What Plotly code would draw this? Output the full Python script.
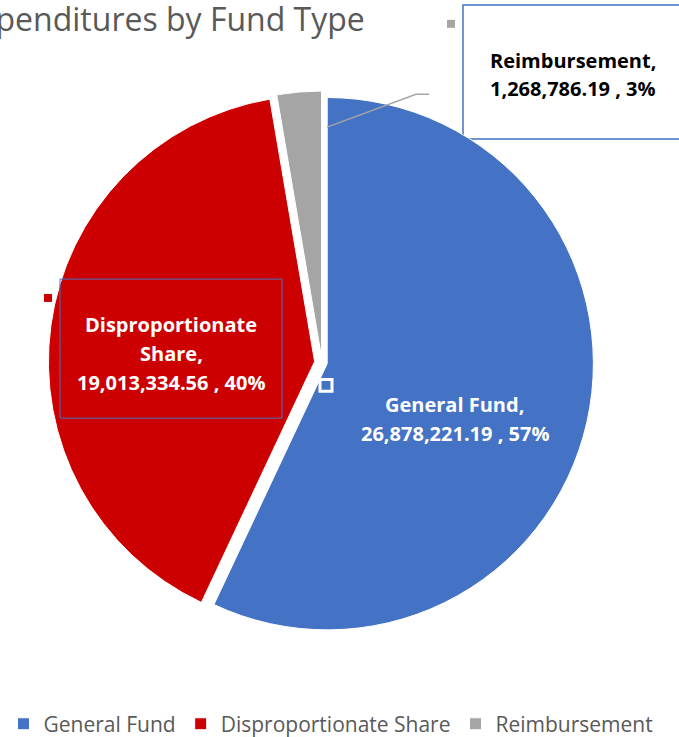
import plotly.graph_objects as go

W, H = 679, 737

categories = ["General Fund", "Disproportionate Share", "Reimbursement"]
values = [26878221.19, 19013334.56, 1268786.19]
colors = ["#4472C4", "#CC0000", "#A5A5A5"]
title_text = "Expenditures by Fund Type"


def px(x):
    return x / W


def py(y):
    return 1 - y / H


total = sum(values)
pcts = [round(v / total * 100) for v in values]

FONT = "Open Sans, Noto Sans, sans-serif"

fig = go.Figure()
fig.add_trace(go.Pie(
    labels=categories,
    values=values,
    sort=False,
    direction="clockwise",
    rotation=0,
    pull=[0.02, 0.028, 0.02],
    marker=dict(colors=colors, line=dict(color="white", width=1)),
    textinfo="none",
    hoverinfo="label+value+percent",
    domain=dict(x=[px(46.5), px(597.5)], y=[py(640.5), py(89.5)]),
))

annotations = []
annotations.append(dict(
    text=title_text, x=px(367), y=py(19), xref="paper", yref="paper",
    xanchor="right", yanchor="middle", showarrow=False,
    font=dict(family=FONT, size=32, color="#595959"),
))


def fmt(v):
    return f"{v:,.2f}"


def add_lines(lines, cx, ys, color):
    for line, yy in zip(lines, ys):
        annotations.append(dict(
            text=f"<b>{line}</b>", x=px(cx), y=py(yy), xref="paper", yref="paper",
            xanchor="center", yanchor="middle", showarrow=False,
            font=dict(family=FONT, size=20, color=color),
        ))


add_lines([f"{categories[0]},", f"{fmt(values[0])} , {pcts[0]}%"], 455, [407, 436], "white")
w1, w2 = categories[1].split(" ")
add_lines([w1, f"{w2},", f"{fmt(values[1])} , {pcts[1]}%"], 171, [327, 356, 385], "white")
add_lines([f"{categories[2]},", f"{fmt(values[2])} , {pcts[2]}%"], 573, [61, 89], "black")

shapes = []
shapes.append(dict(type="rect", xref="paper", yref="paper",
                   x0=px(463), x1=px(700), y0=py(140), y1=py(5),
                   line=dict(color="#4472C4", width=1.5), fillcolor="white", layer="below"))
shapes.append(dict(type="rect", xref="paper", yref="paper",
                   x0=px(60), x1=px(282), y0=py(421), y1=py(281),
                   line=dict(color="#4472C4", width=1), fillcolor="rgba(0,0,0,0)"))
shapes.append(dict(type="path", xref="paper", yref="paper",
                   path=f"M {px(327)},{py(128)} L {px(416)},{py(95)} L {px(429)},{py(95)}",
                   line=dict(color="#A5A5A5", width=1.5)))
shapes.append(dict(type="rect", xref="paper", yref="paper",
                   x0=px(447), x1=px(455), y0=py(28), y1=py(20),
                   line=dict(width=0), fillcolor="#A5A5A5"))
shapes.append(dict(type="rect", xref="paper", yref="paper",
                   x0=px(44), x1=px(52), y0=py(304), y1=py(296),
                   line=dict(width=0), fillcolor="#CC0000"))
shapes.append(dict(type="rect", xref="paper", yref="paper",
                   x0=px(320), x1=px(332), y0=py(394), y1=py(382),
                   line=dict(color="white", width=3), fillcolor="#4472C4"))

fig.update_layout(
    width=W, height=H,
    margin=dict(l=0, r=0, t=0, b=0),
    paper_bgcolor="white",
    plot_bgcolor="white",
    annotations=annotations,
    shapes=shapes,
    showlegend=True,
    legend=dict(
        orientation="h", x=px(331), xanchor="center",
        y=py(721), yanchor="middle",
        font=dict(family=FONT, size=21, color="#595959"),
        itemwidth=30,
    ),
)

post = (
    "document.body.style.margin='0';document.body.style.overflow='hidden';"
    "var s=document.createElement('style');"
    "s.textContent='.legend{translate:0 8px;}';"
    "document.head.appendChild(s);"
)

fig.write_html("out.html", config={"displayModeBar": False}, post_script=post)
